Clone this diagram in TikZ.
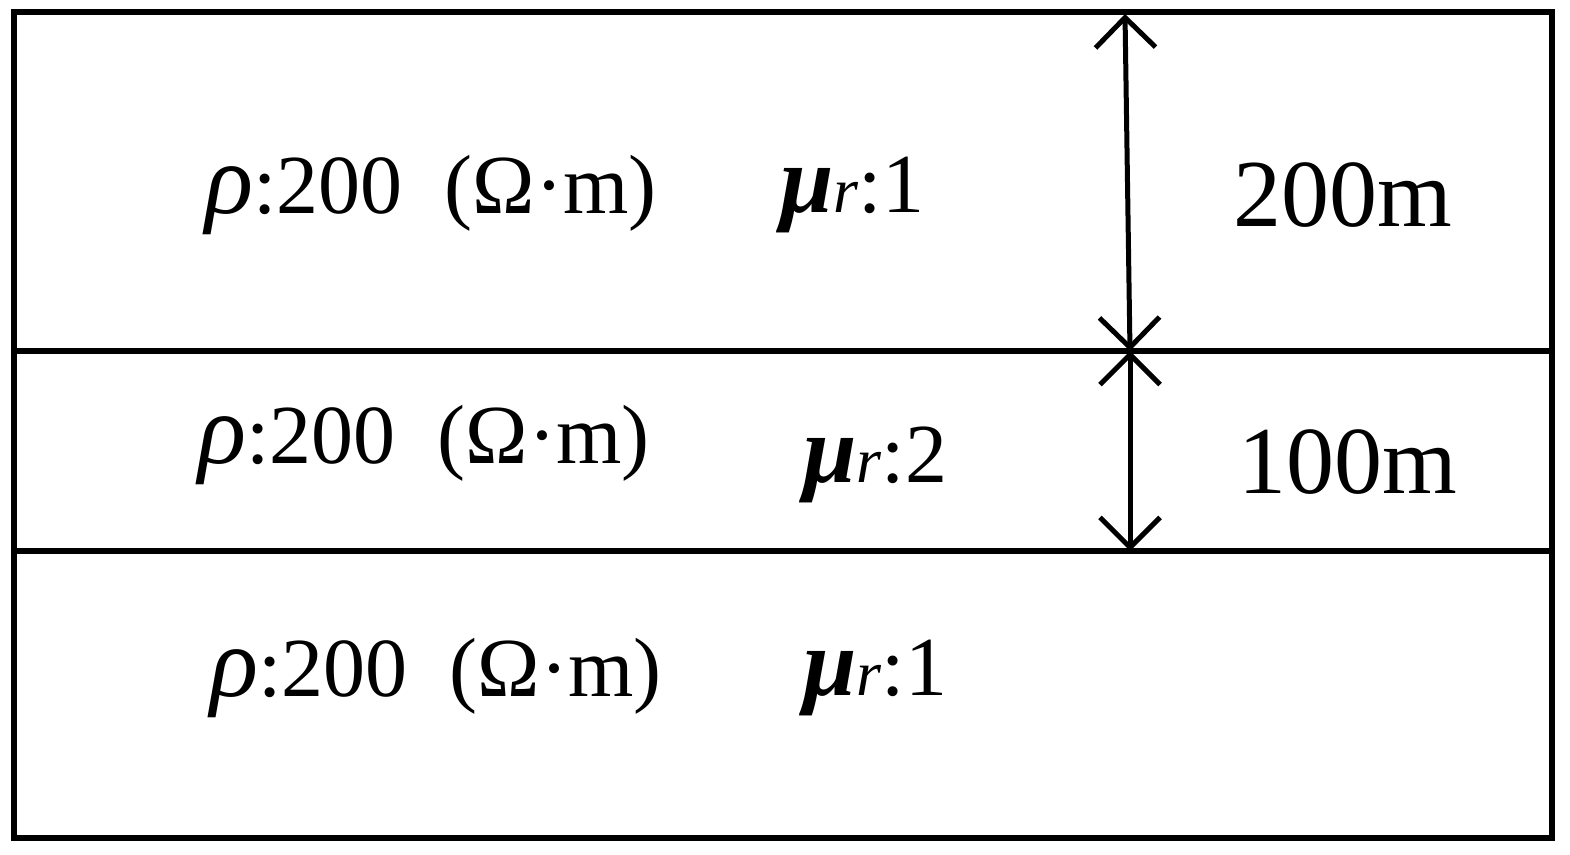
\documentclass[tikz,border=0pt]{standalone}
\usepackage{fontspec}
\setmainfont{Liberation Serif}
\usetikzlibrary{arrows.meta}
\begin{document}
\begin{tikzpicture}[x=0.5pt,y=-0.5pt,
  ln/.style={line width=2.8pt},
  dim/.style={line width=2.5pt,{Straight Barb[length=15pt,width=30pt]}-{Straight Barb[length=15pt,width=30pt]}},
  lab/.style={anchor=west,inner sep=0pt,font=\fontsize{42}{50}\selectfont},
  big/.style={anchor=west,inner sep=0pt,font=\fontsize{48}{56}\selectfont}]
\useasboundingbox (0,0) rectangle (1570,855);
\draw[ln] (14,12) rectangle (1552,838);
\draw[ln] (14,351) -- (1552,351);
\draw[ln] (14,551) -- (1552,551);
\coordinate (t1) at (1125,14);
\coordinate (m1) at (1130,351);
\coordinate (b1) at (1130,551);
\draw[dim] (t1) -- (m1);
\draw[dim] (m1) -- (b1);
\newcommand{\rh}{{\itshape\fontsize{50}{56}\selectfont ρ}}
\newcommand{\mur}{{\bfseries\itshape\fontsize{48}{56}\selectfont μ}{\itshape\fontsize{32}{36}\selectfont r}}
\node[lab] (r1) at (205,195) {\rh:200\ \ (Ω·m)};
\node[lab] (u1) at (780,195) {\mur:1};
\node[lab] (r2) at (198,445) {\rh:200\ \ (Ω·m)};
\node[lab] (u2) at (803,465) {\mur:2};
\node[lab] (r3) at (210,678) {\rh:200\ \ (Ω·m)};
\node[lab] (u3) at (803,678) {\mur:1};
\node[big] (d1) at (1233,195) {200m};
\node[big] (d2) at (1238,462) {100m};
\end{tikzpicture}
\end{document}
